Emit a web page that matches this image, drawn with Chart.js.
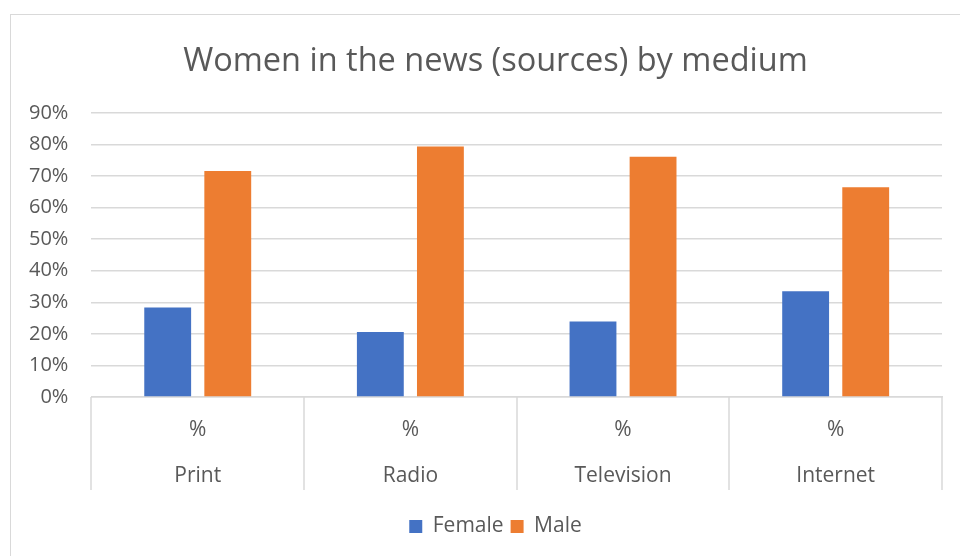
<!DOCTYPE html>
<html>
<head>
<meta charset="utf-8">
<script src="https://cdn.jsdelivr.net/npm/chart.js@4/dist/chart.umd.min.js"></script>
<style>
  html, body { margin: 0; padding: 0; background: #fff; }
  #wrap { position: relative; width: 960px; height: 556px; overflow: hidden; }
  #frame { position: absolute; left: 10px; top: 14px; width: 1000px; height: 600px;
           border: 1.5px solid #d9d9d9; box-sizing: border-box; }
  #c { position: absolute; left: 0; top: 0; }
</style>
</head>
<body>
<div id="wrap">
  <div id="frame"></div>
  <canvas id="c" width="985" height="556"></canvas>
</div>
<script>
// Share of news sources by gender, per medium (percent)
const media = ['Print', 'Radio', 'Television', 'Internet'];
const unitLabel = '%';
const female = [28.4, 20.6, 23.9, 33.5];
const male = [71.6, 79.4, 76.1, 66.5];
const yTicks = [0, 10, 20, 30, 40, 50, 60, 70, 80, 90];

const FONT = "'Open Sans', 'Noto Sans', sans-serif";
const TEXT = '#595959';
const GRID = '#d9d9d9';

// Vertical separators between category groups, running down through the label rows
const categoryDividers = {
  id: 'categoryDividers',
  afterDraw(chart) {
    const s = chart.scales.x;
    const n = s.ticks.length;
    if (!n) return;
    const step = n > 1 ? s.getPixelForTick(1) - s.getPixelForTick(0) : s.width;
    const ctx = chart.ctx;
    ctx.save();
    ctx.strokeStyle = GRID;
    ctx.lineWidth = 1.5;
    ctx.beginPath();
    for (let i = 0; i <= n; i++) {
      const x = Math.round(s.getPixelForTick(0) - step / 2 + i * step);
      ctx.moveTo(x, s.top);
      ctx.lineTo(x, s.top + 93);
    }
    ctx.stroke();
    ctx.restore();
  }
};

new Chart(document.getElementById('c'), {
  type: 'bar',
  data: {
    labels: media.map(m => [unitLabel, m]),
    datasets: [
      { label: 'Female', data: female, backgroundColor: '#4472C4', borderWidth: 0 },
      { label: 'Male', data: male, backgroundColor: '#ED7D31', borderWidth: 0 }
    ]
  },
  plugins: [categoryDividers],
  options: {
    responsive: false,
    animation: false,
    devicePixelRatio: 1,
    datasets: { bar: { categoryPercentage: 0.565, barPercentage: 0.78 } },
    layout: { padding: { left: 6, right: 0, top: 0, bottom: 9 } },
    plugins: {
      title: {
        display: true,
        text: 'Women in the news (sources) by medium',
        color: TEXT,
        font: { family: FONT, size: 32.5, weight: 'normal', lineHeight: 1.2 },
        padding: { top: 42, bottom: 32 }
      },
      legend: {
        position: 'bottom',
        labels: {
          color: TEXT,
          font: { family: FONT, size: 21 },
          boxWidth: 13,
          boxHeight: 13,
          padding: 7
        }
      },
      tooltip: { enabled: false }
    },
    scales: {
      x: {
        grid: { offset: true, drawOnChartArea: false, drawTicks: false },
        border: { display: true, color: GRID, width: 1.5 },
        ticks: {
          color: TEXT,
          font: { family: FONT, size: 21, lineHeight: '46px' },
          padding: 10,
          maxRotation: 0,
          autoSkip: false
        }
      },
      y: {
        min: 0,
        max: yTicks[yTicks.length - 1],
        afterBuildTicks: s => { s.ticks = yTicks.map(v => ({ value: v })); },
        grid: { color: GRID, lineWidth: 1.5, drawTicks: false },
        border: { display: false },
        ticks: {
          color: TEXT,
          font: { family: FONT, size: 20 },
          padding: 23,
          callback: v => v + '%'
        }
      },
      // empty right-hand margin so the plot ends short of the frame edge
      margin: {
        type: 'linear',
        axis: 'y',
        position: 'right',
        grid: { display: false },
        border: { display: false },
        ticks: { display: false },
        afterFit: s => { s.width = 43; }
      }
    }
  }
});
</script>
</body>
</html>
